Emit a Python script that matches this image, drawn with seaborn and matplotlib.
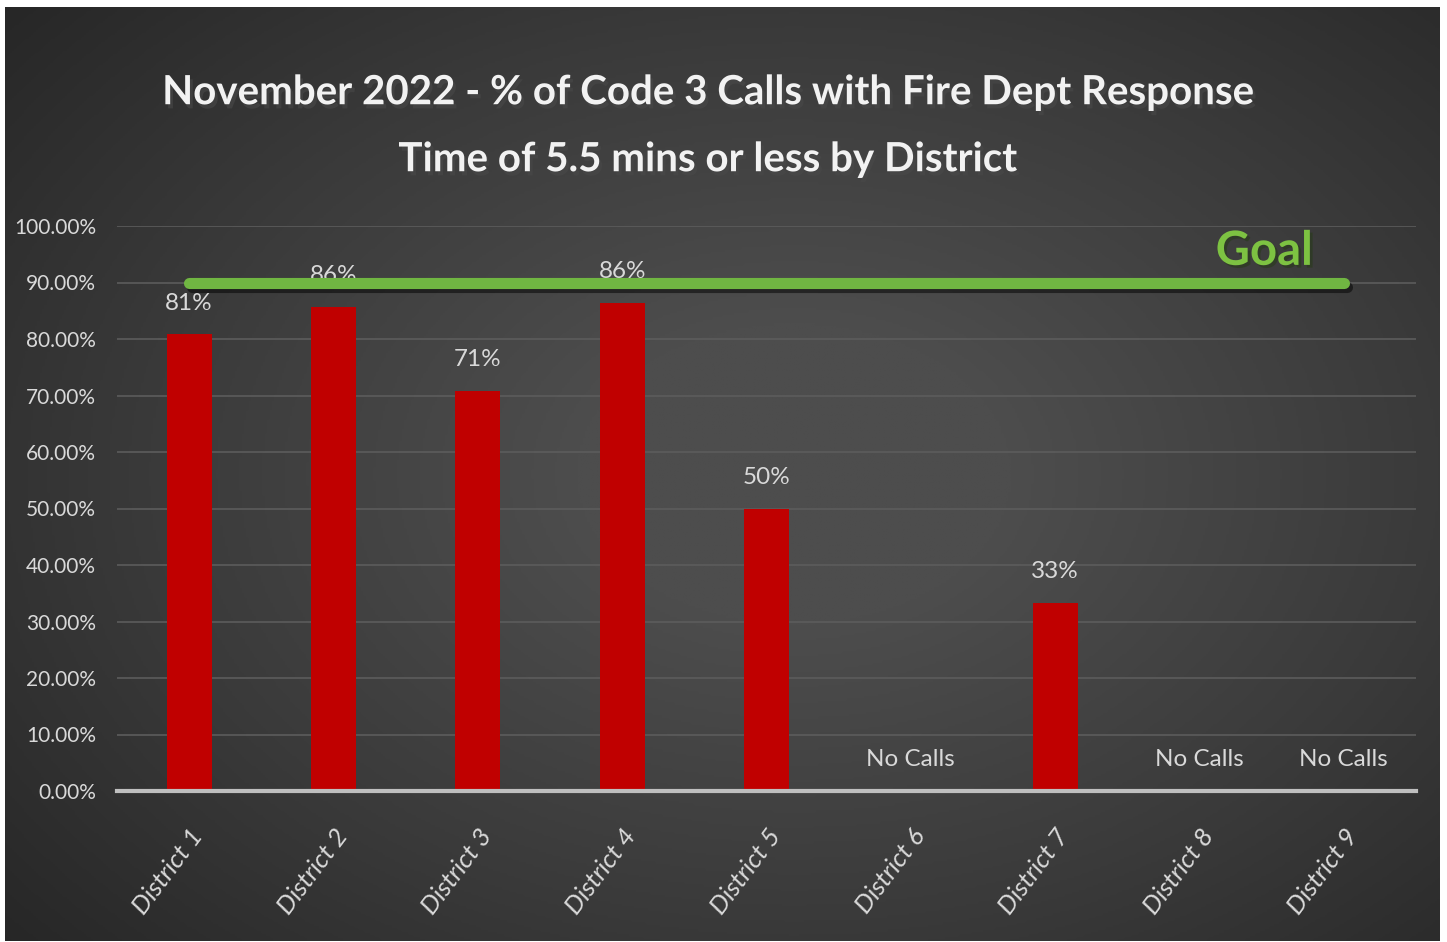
import numpy as np
import pandas as pd
import matplotlib
matplotlib.use("Agg")
import matplotlib.pyplot as plt
import matplotlib.patheffects as pe
import seaborn as sns

# valores
distritos = ["District 1", "District 2", "District 3", "District 4", "District 5",
             "District 6", "District 7", "District 8", "District 9"]
percentuais = [0.808, 0.857, 0.708, 0.864, 0.50, 0.0, 0.333, 0.0, 0.0]
rotulos = ["81%", "86%", "71%", "86%", "50%", "No Calls", "33%", "No Calls", "No Calls"]
meta = 0.90
ticks_y = [0.0, 0.1, 0.2, 0.3, 0.4, 0.5, 0.6, 0.7, 0.8, 0.9, 1.0]

titulo = "November 2022 - % of Code 3 Calls with Fire Dept Response\nTime of 5.5 mins or less by District"

sns.set_style("dark")
plt.rcParams['font.family'] = ['Lato', 'DejaVu Sans']

fig = plt.figure(figsize=(14.47, 9.42), dpi=100, facecolor="white")

# fundo com gradiente radial
fundo = fig.add_axes([5 / 1447, 1 / 942, 1435 / 1447, 934 / 942], zorder=-5)
yy, xx = np.mgrid[0:1:400j, 0:1:600j]
dist = np.sqrt(((xx - 0.55) / 0.75) ** 2 + ((yy - 0.5) / 0.8) ** 2)
grad = np.clip(1 - dist, 0, 1)
fundo.imshow(grad, cmap=matplotlib.colors.LinearSegmentedColormap.from_list(
    "bg", ["#252525", "#3a3a3a", "#4d4d4d"]), vmin=0, vmax=0.8,
    aspect="auto", extent=[0, 1, 0, 1])
fundo.set_axis_off()

ax = fig.add_axes([117 / 1447, 151 / 942, 1299 / 1447, 565 / 942])
ax.patch.set_alpha(0)

df = pd.DataFrame({"distrito": distritos, "pct": percentuais})
sns.barplot(data=df, x="distrito", y="pct", order=distritos, color="#C00000",
            saturation=1, width=0.31, linewidth=0, ax=ax, zorder=3)

ax.set_ylim(0, 1.0)
ax.set_xlim(-0.5, len(distritos) - 0.5)
ax.set_yticks(ticks_y)
ax.set_yticklabels([f"{t * 100:.2f}%" for t in ticks_y])
ax.grid(axis="y", color="#5c5c5c", linewidth=1.2, zorder=0)
ax.grid(axis="x", visible=False)
for s in ["top", "right", "left"]:
    ax.spines[s].set_visible(False)
ax.spines["bottom"].set_color("#bfbfbf")
ax.spines["bottom"].set_linewidth(3)
ax.spines["bottom"].set_zorder(4)
ax.set_xlabel("")
ax.set_ylabel("")
ax.tick_params(axis="y", colors="#d9d9d9", labelsize=15, pad=15, length=0)
ax.tick_params(axis="x", colors="#d9d9d9", labelsize=18.5, pad=24, length=0)
for lbl in ax.get_xticklabels():
    lbl.set_rotation(53)
    lbl.set_ha("right")
    lbl.set_va("top")
    lbl.set_rotation_mode("anchor")
    lbl.set_style("italic")

# rotulos de dados
for i, (v, r) in enumerate(zip(percentuais, rotulos)):
    ax.text(i, v + 0.037, r, ha="center", va="bottom", color="#d9d9d9", fontsize=17.5)

# linha da meta
ax.plot([0, len(distritos) - 1], [meta, meta], color="#70B642", linewidth=8,
        solid_capstyle="round", zorder=5,
        path_effects=[pe.SimpleLineShadow(offset=(2, -3), alpha=0.5), pe.Normal()])
ax.text(7.45, meta + 0.017, "Goal", ha="center", va="bottom", color="#7DC242",
        fontsize=34, fontweight="bold", zorder=6,
        path_effects=[pe.withSimplePatchShadow(offset=(2, -2), alpha=0.5)])

fig.text(0.489, 0.866, titulo, ha="center", va="center", color="#f2f2f2",
         fontsize=29, fontweight="bold", linespacing=2.0,
         path_effects=[pe.withSimplePatchShadow(offset=(2, -3), alpha=0.6)])

fig.savefig("out.png", dpi=100, facecolor=fig.get_facecolor())
